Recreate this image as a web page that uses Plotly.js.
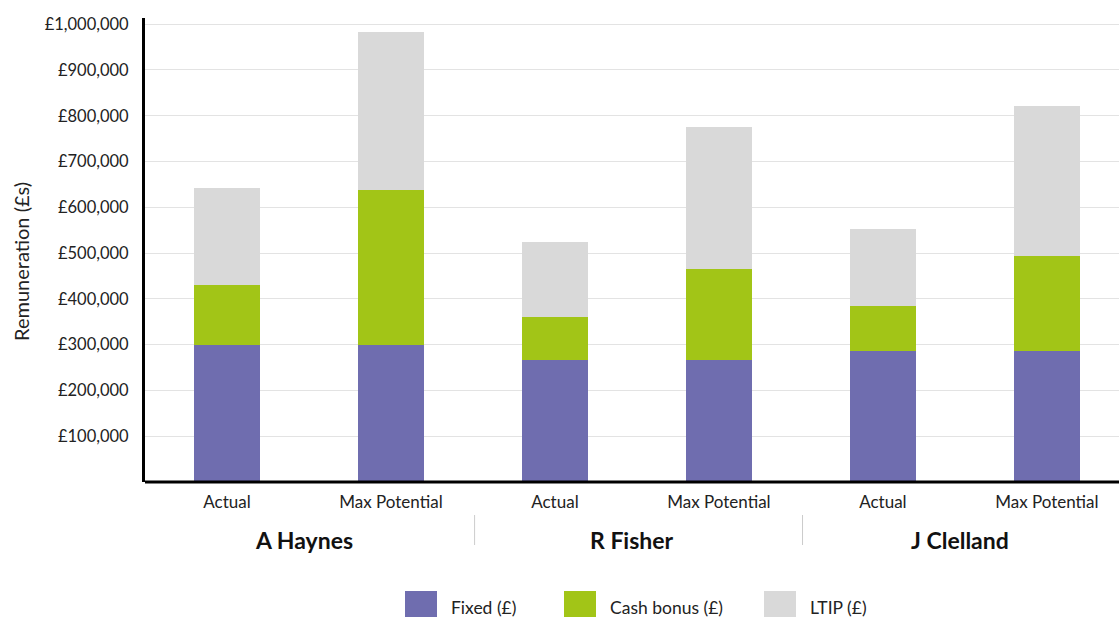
<!DOCTYPE html>
<html>
<head>
<meta charset="utf-8">
<script src="https://cdn.plot.ly/plotly-3.0.1.min.js"></script>
<style>html,body{margin:0;padding:0;background:#fff;}#chart{width:1119px;height:617px;}</style>
</head>
<body>
<div id="chart"></div>
<script>
// ---- data ----
const people = ["A Haynes", "R Fisher", "J Clelland"];
const scenarios = ["Actual", "Max Potential"];
const fixed = [300000, 300000, 266000, 266000, 286000, 286000];
const cashBonus = [130000, 337000, 94000, 199000, 98000, 207000];
const ltip = [212000, 346000, 164000, 310000, 168000, 328000];
const seriesNames = ["Fixed (£)", "Cash bonus (£)", "LTIP (£)"];
const seriesColors = ["#6f6daf", "#a2c517", "#d9d9d9"];
const yTickVals = [100000, 200000, 300000, 400000, 500000, 600000, 700000, 800000, 900000, 1000000];
const yTickText = ["£100,000", "£200,000", "£300,000", "£400,000", "£500,000", "£600,000", "£700,000", "£800,000", "£900,000", "£1,000,000"];

// ---- build ----
const FONT = "Lato, 'Noto Sans', sans-serif";
const xIdx = [];
const xLabels = [];
people.forEach((p, i) => scenarios.forEach((s, j) => { xIdx.push(i * scenarios.length + j); xLabels.push(s); }));
const seriesValues = [fixed, cashBonus, ltip];

const traces = seriesValues.map((vals, k) => ({
  type: "bar",
  x: xIdx,
  y: vals,
  name: seriesNames[k],
  marker: { color: seriesColors[k], line: { width: 0 } },
  width: 0.4,
  showlegend: false,
  hoverinfo: "y+name"
}));

const layoutH = 617;
const plotTop = 18, plotBottom = 482;
const plotH = plotBottom - plotTop;
function pyToPaper(py) { return (plotBottom - py) / plotH; }
function pxToPaper(px) { return (px - 145) / (1119 - 145); }

const annotations = people.map((p, i) => ({
  x: i * scenarios.length + (scenarios.length - 1) / 2 - 0.03,
  xref: "x",
  y: pyToPaper(540), yref: "paper",
  text: "<b>" + p + "</b>",
  showarrow: false,
  font: { family: FONT, size: 23, color: "#111" },
  xanchor: "center", yanchor: "middle"
}));

// y-axis title
annotations.push({
  x: pxToPaper(21), xref: "paper", y: pyToPaper(262), yref: "paper",
  text: "Remuneration (£s)", textangle: -90, showarrow: false,
  xanchor: "center", yanchor: "middle",
  font: { family: FONT, size: 20, color: "#222" }
});

const shapes = [];
// group dividers
for (let i = 1; i < people.length; i++) {
  shapes.push({
    type: "line", xref: "x", yref: "paper",
    x0: i * scenarios.length - 0.49, x1: i * scenarios.length - 0.49,
    y0: pyToPaper(545), y1: pyToPaper(515), line: { color: "#cccccc", width: 1 }
  });
}

// custom legend
const legendX = [405, 564, 764];
seriesNames.forEach((n, k) => {
  shapes.push({
    type: "rect", xref: "paper", yref: "paper",
    x0: pxToPaper(legendX[k]), x1: pxToPaper(legendX[k] + 32),
    y0: pyToPaper(620), y1: pyToPaper(591),
    fillcolor: seriesColors[k], line: { width: 0 }
  });
  annotations.push({
    x: pxToPaper(legendX[k] + 44), xref: "paper",
    y: pyToPaper(607), yref: "paper",
    text: n, showarrow: false, xanchor: "left", yanchor: "middle",
    font: { family: FONT, size: 17.5, color: "#222" }
  });
});

const layout = {
  width: 1119, height: layoutH,
  margin: { l: 145, r: 0, t: plotTop, b: layoutH - plotBottom },
  paper_bgcolor: "#fff", plot_bgcolor: "#fff",
  font: { family: FONT, size: 16, color: "#222" },
  barmode: "stack",
  xaxis: {
    range: [-0.5, 5.44],
    tickvals: xIdx, ticktext: xLabels,
    showgrid: false, zeroline: false,
    showline: false, ticks: "",
    ticklabelstandoff: 8,
    tickfont: { family: FONT, size: 17, color: "#222" },
    fixedrange: true
  },
  yaxis: {
    range: [0, 1013500],
    tickvals: yTickVals, ticktext: yTickText,
    showgrid: true, gridcolor: "#e3e3e3", gridwidth: 1,
    zeroline: false,
    showline: true, linecolor: "#000", linewidth: 3,
    ticks: "", ticklen: 0,
    ticklabelstandoff: 10,
    tickfont: { family: FONT, size: 16.5, color: "#222" },
    fixedrange: true
  },
  shapes: shapes.concat([{
    type: "line", xref: "paper", yref: "paper", x0: 0, x1: 1, y0: 0, y1: 0,
    line: { color: "#000", width: 3 }
  }]),
  annotations: annotations
};

Plotly.newPlot("chart", traces, layout, { displayModeBar: false, staticPlot: true });
</script>
</body>
</html>
